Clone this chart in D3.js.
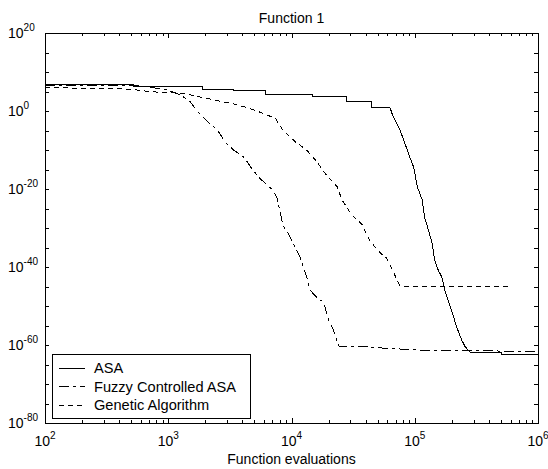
<!DOCTYPE html>
<html>
<head>
<meta charset="utf-8">
<script src="https://cdn.jsdelivr.net/npm/d3@7"></script>
<style>
  body { margin: 0; background: #fff; }
  svg { display: block; font-family: 'Liberation Sans', Arial, sans-serif; }
</style>
</head>
<body>
<svg id="chart" width="548" height="469"></svg>
<script>
// axis ticks / labels
const xTicks = [1e2, 1e3, 1e4, 1e5, 1e6];
const yTicks = [1e20, 1e0, 1e-20, 1e-40, 1e-60, 1e-80];

// ASA (solid)
const asaEvals = [100, 518, 518, 1905, 1905, 3400, 3400, 6200, 6200, 14800, 14800, 28200, 28200, 44700, 44700, 63000,
  66000, 76000, 83000, 91000, 98000, 105000, 115000, 120000, 129000, 138000, 145000, 155000, 166000, 178000,
  195000, 219000, 240000, 257000, 282000, 507000, 507000, 1e6];
const asaValues = [5e6, 5e6, 2.5e6, 2.5e6, 4e5, 4e5, 1.6e5, 1.6e5, 2e4, 2e4, 5e3, 5e3, 2.5e2, 2.5e2, 7.1, 7.1,
  0.1, 1.3e-5, 6.3e-9, 1.6e-12, 4e-15, 3.2e-20, 1.6e-23, 6.3e-28, 3.2e-31, 1.6e-34, 6.3e-39, 1.6e-41, 2.5e-43, 2e-47,
  5e-51, 4e-56, 2e-59, 3.2e-61, 1.6e-62, 1.6e-62, 4e-63, 4e-63];

// Fuzzy Controlled ASA (dash-dot)
const fuzzyEvals = [100, 537, 708, 977, 1259, 1514, 1738, 2089, 2512, 2884, 3388, 4169, 4786, 5495, 6761, 7586,
  8511, 9550, 10965, 11749, 13490, 14125, 16218, 18197, 19953, 21878, 23988, 24547, 43652, 54954, 109648, 234423, 1e6];
const fuzzyValues = [3.5e6, 3.5e6, 1.4e6, 2.4e5, 1.3e4, 200, 0.55, 1.6e-3, 1.3e-5, 1.3e-8, 1e-10, 1e-12, 1.3e-15,
  6.3e-18, 2e-20, 1e-22, 6.3e-30, 1.6e-32, 2.5e-36, 4e-38, 5e-44, 1.3e-46, 1e-48, 1e-49, 2.5e-54, 6.3e-57, 1e-60,
  3.2e-61, 3.2e-61, 1.6e-61, 5e-62, 5e-62, 1.6e-62];

// Genetic Algorithm (dashed)
const gaEvals = [100, 407, 562, 708, 1318, 2042, 3388, 4365, 5495, 7413, 8511, 10715, 13183, 15488, 19498, 23442,
  25704, 30903, 37154, 43652, 52481, 58884, 66069, 75858, 588844];
const gaValues = [9.3e5, 5.9e5, 2.4e5, 8.9e4, 3.5e4, 1.8e3, 63, 7.1, 0.55, 1.3e-2, 1.3e-5, 1.3e-8, 1.2e-10, 4e-13,
  2e-17, 4e-20, 1.6e-23, 2e-27, 1e-29, 3.2e-34, 4e-37, 2.5e-38, 1.6e-41, 1.3e-45, 1.3e-45];

const seriesNames = ['ASA', 'Fuzzy Controlled ASA', 'Genetic Algorithm'];
const seriesDash = [null, '10,4,3,4', '5,4'];

const svg = d3.select('#chart');
svg.append('rect').attr('width', 548).attr('height', 469).attr('fill', '#fff');

const margin = { top: 33, right: 10, bottom: 46, left: 45 };
const width = +svg.attr('width') - margin.left - margin.right;
const height = +svg.attr('height') - margin.top - margin.bottom;
const g = svg.append('g').attr('transform', `translate(${margin.left},${margin.top})`);

const x = d3.scaleLog().domain([1e2, 1e6]).range([0, width]);
const y = d3.scaleLog().domain([1e-80, 1e20]).range([height, 0]);

// minor ticks
const xMinor = [];
for (let d = 2; d < 6; d++) for (let k = 2; k < 10; k++) xMinor.push(k * Math.pow(10, d));
const yMinor = [];
for (let e = -75; e < 20; e += 5) if (e % 20 !== 0) yMinor.push(Math.pow(10, e));

function tickAxis(axisFn, scale, values, size, transform) {
  const a = g.append('g')
    .attr('transform', transform || null)
    .call(axisFn(scale).tickValues(values).tickSize(-size).tickFormat(''));
  a.select('.domain').remove();
  a.selectAll('line').attr('stroke', '#000').attr('shape-rendering', 'crispEdges');
}

tickAxis(d3.axisBottom, x, xMinor, 3, `translate(0,${height})`);
tickAxis(d3.axisBottom, x, xTicks, 5, `translate(0,${height})`);
tickAxis(d3.axisTop, x, xMinor, 3);
tickAxis(d3.axisTop, x, xTicks, 5);
tickAxis(d3.axisLeft, y, yMinor, 4);
tickAxis(d3.axisLeft, y, yTicks, 4);
tickAxis(d3.axisRight, y, yMinor, 4, `translate(${width},0)`);
tickAxis(d3.axisRight, y, yTicks, 4, `translate(${width},0)`);

g.append('rect')
  .attr('width', width)
  .attr('height', height)
  .attr('fill', 'none')
  .attr('stroke', '#000')
  .attr('shape-rendering', 'crispEdges');

const expo = v => String(Math.round(Math.log10(v)));

// x tick labels
xTicks.forEach(v => {
  const t = g.append('text')
    .attr('x', x(v))
    .attr('y', height + 23)
    .attr('text-anchor', 'middle')
    .attr('font-size', 14);
  t.append('tspan').text('10');
  t.append('tspan').attr('dy', -7).attr('font-size', 10).text(expo(v));
});

// y tick labels
yTicks.forEach(v => {
  const t = svg.append('text')
    .attr('x', 8)
    .attr('y', margin.top + y(v) + 5)
    .attr('font-size', 14);
  t.append('tspan').text('10');
  t.append('tspan').attr('dy', -7).attr('font-size', 10).text(expo(v));
});

svg.append('text')
  .attr('x', margin.left + width / 2)
  .attr('y', 23)
  .attr('text-anchor', 'middle')
  .attr('font-size', 14)
  .text('Function 1');

svg.append('text')
  .attr('x', margin.left + width / 2)
  .attr('y', 464)
  .attr('text-anchor', 'middle')
  .attr('font-size', 14)
  .text('Function evaluations');

// curves
const line = d3.line()
  .x(d => x(d[0]))
  .y(d => y(d[1]));

const series = [
  d3.zip(asaEvals, asaValues),
  d3.zip(fuzzyEvals, fuzzyValues),
  d3.zip(gaEvals, gaValues)
];

series.forEach((data, i) => {
  g.append('path')
    .datum(data)
    .attr('fill', 'none')
    .attr('stroke', '#000')
    .attr('stroke-width', 1)
    .attr('stroke-dasharray', seriesDash[i])
    .attr('shape-rendering', 'crispEdges')
    .attr('d', line);
});

// legend
const lg = svg.append('g').attr('transform', 'translate(52,354)');
lg.append('rect')
  .attr('width', 198)
  .attr('height', 64)
  .attr('fill', '#fff')
  .attr('stroke', '#000')
  .attr('shape-rendering', 'crispEdges');

seriesNames.forEach((name, i) => {
  const yy = 19 + i * 18.5;
  lg.append('line')
    .attr('x1', 7).attr('x2', 33)
    .attr('y1', yy - 5).attr('y2', yy - 5)
    .attr('stroke', '#000')
    .attr('stroke-dasharray', seriesDash[i])
    .attr('shape-rendering', 'crispEdges');
  lg.append('text')
    .attr('x', 42)
    .attr('y', yy)
    .attr('font-size', 14.6)
    .text(name);
});
</script>
</body>
</html>
